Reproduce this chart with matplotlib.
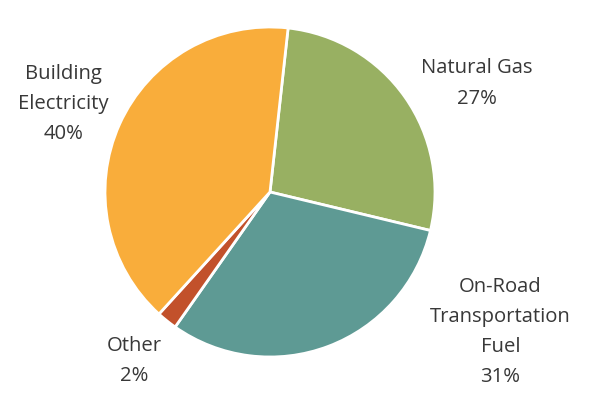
import matplotlib
matplotlib.use("Agg")
import matplotlib.pyplot as plt

categories = ["Natural Gas", "On-Road\nTransportation\nFuel", "Other", "Building\nElectricity"]
values = [27, 31, 2, 40]
colors = ["#98B062", "#5E9A94", "#C2512B", "#F9AD3B"]

W, H = 600, 397
fig = plt.figure(figsize=(6, 3.97), dpi=100)
cx, cy, r = 270, 192, 165
ax = fig.add_axes([(cx - r) / W, (H - cy - r) / H, 2 * r / W, 2 * r / H])
ax.pie(values, colors=colors, startangle=83.7, counterclock=False,
       wedgeprops=dict(edgecolor="white", linewidth=2), radius=1.0)
ax.set_xlim(-1, 1)
ax.set_ylim(-1, 1)
ax.set_aspect("equal")
ax.axis("off")

label_pos = [(476.5, 83.5), (500.5, 332), (134, 361), (63.5, 104)]
for cat, v, (x, y) in zip(categories, values, label_pos):
    fig.text(x / W, 1 - y / H, f"{cat}\n{v}%", ha="center", va="center",
             fontsize=14.6, family="Open Sans", color="#383838", linespacing=1.68)

fig.savefig("out.png", dpi=100)
